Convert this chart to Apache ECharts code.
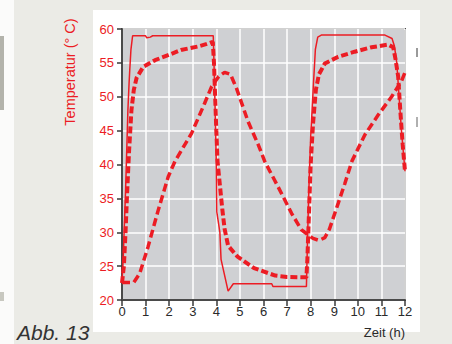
<!DOCTYPE html>
<html><head><meta charset="utf-8">
<script src="https://cdn.jsdelivr.net/npm/echarts@6/dist/echarts.min.js"></script>
<style>html,body{margin:0;padding:0;background:#ebebe6;}#c{width:452px;height:344px;}</style>
</head><body><div id="c"></div>
<script>
// Solid line (setpoint / heater)
const timeSolid = [0, 0.05, 0.1, 0.15, 0.2, 0.25, 0.3, 0.33, 0.38, 0.45, 1.0, 1.05, 1.2, 1.3, 3.87, 3.9, 3.95, 4.0, 4.02, 4.15, 4.2, 4.5, 4.72, 6.35, 6.4, 7.82, 7.86, 7.92, 8.0, 8.12, 8.2, 8.3, 8.45, 11.15, 11.45, 11.55, 11.65, 11.75, 11.85, 12];
const tempSolid = [22.5, 26, 31, 36, 42, 48, 52, 54, 57, 59, 59, 58.7, 58.8, 59, 59, 55, 48, 40, 33, 30, 26, 21.3, 22.4, 22.4, 22.0, 22.0, 28, 36, 44, 52, 57, 58.8, 59.1, 59.1, 58.6, 57.5, 55, 50, 45, 39];
// Thick dashed (fast response)
const timeFast = [0, 0.08, 0.15, 0.22, 0.3, 0.4, 0.5, 0.62, 0.9, 1.4, 2.0, 2.5, 3.2, 3.6, 3.85, 3.9, 3.95, 4.0, 4.05, 4.15, 4.25, 4.35, 4.5, 4.9, 5.6, 6.5, 7.0, 7.82, 7.86, 7.92, 8.0, 8.1, 8.22, 8.35, 8.6, 9.17, 9.87, 10.58, 11.28, 11.5, 11.6, 11.71, 11.8, 11.9, 12];
const tempFast = [22.5, 25, 30, 36, 42, 48, 51, 52.8, 54.4, 55.4, 56.2, 56.9, 57.4, 57.8, 58.1, 55, 50, 45, 40.5, 37, 33.5, 30.5, 28, 26.4, 24.7, 23.6, 23.4, 23.35, 26, 32, 40, 46, 51, 53.3, 54.9, 55.9, 56.65, 57.3, 57.7, 57.3, 55.5, 53, 48, 43, 39];
// Dashed (slow response)
const timeSlow = [0, 0.3, 0.5, 0.75, 1.1, 1.54, 1.96, 2.25, 2.95, 3.5, 3.8, 4.1, 4.35, 4.6, 4.86, 5.35, 5.78, 6.06, 6.62, 7.19, 7.6, 7.9, 8.1, 8.35, 8.6, 8.8, 9.17, 9.45, 9.75, 10.3, 10.86, 11.43, 11.85, 12];
const tempSlow = [22.6, 22.6, 22.6, 23.9, 27.8, 33.3, 38.2, 40.5, 44.6, 49, 51.5, 53, 53.6, 53.3, 51.2, 46.3, 42.9, 40.4, 36.7, 32.8, 30.4, 29.6, 29.1, 28.8, 29.2, 30.5, 34.3, 37.2, 40.5, 44.4, 47.3, 50, 52.3, 53.6];

const xTicks = [0, 1, 2, 3, 4, 5, 6, 7, 8, 9, 10, 11, 12];
const yTicks = [20, 25, 30, 35, 40, 45, 50, 55, 60];

const RED = '#ec1c24';
const pair = (xs, ys) => xs.map((x, i) => [x, ys[i]]);

const chart = echarts.init(document.getElementById('c'), null, {renderer: 'svg'});
chart.setOption({
  animation: false,
  backgroundColor: '#ebebe6',
  grid: {left: 122, right: 47, top: 29, bottom: 44, show: true, backgroundColor: '#cfd0d3', borderColor: '#4a4a4a', borderWidth: 2},
  graphic: [
    {type: 'rect', z: -100, shape: {x: 0, y: 0, width: 14, height: 344}, style: {fill: '#fbfbfa'}},
    {type: 'rect', z: -99, shape: {x: 0, y: 36, width: 4, height: 74}, style: {fill: '#b3b3ab'}},
    {type: 'rect', z: -99, shape: {x: 0, y: 292, width: 4, height: 9}, style: {fill: '#c8c8c0'}},
    {type: 'rect', z: -100, shape: {x: 93, y: 10, width: 327, height: 322}, style: {fill: '#ffffff'}},
    {type: 'rect', z: -99, shape: {x: 416, y: 48, width: 2, height: 9}, style: {fill: '#9a9a9a'}},
    {type: 'rect', z: -99, shape: {x: 416, y: 117, width: 2, height: 10}, style: {fill: '#b0b0b0'}},
    {type: 'text', z: 100, x: 70, y: 72, rotation: Math.PI / 2, style: {text: 'Temperatur (° C)', fill: RED, font: '14.5px "Liberation Sans", Arial, sans-serif', textAlign: 'center', textVerticalAlign: 'middle'}},
    {type: 'text', z: 100, x: 405, y: 332, style: {text: 'Zeit (h)', fill: '#2a2a2a', font: '13px "Liberation Sans", Arial, sans-serif', textAlign: 'right', textVerticalAlign: 'middle'}},
    {type: 'text', z: 100, x: 17, y: 332, style: {text: 'Abb. 13', fill: '#333333', font: 'italic 21px "Liberation Sans", Arial, sans-serif', textAlign: 'left', textVerticalAlign: 'middle'}}
  ],
  xAxis: {
    type: 'value', min: xTicks[0], max: xTicks[xTicks.length - 1], interval: 1,
    axisLine: {show: true, lineStyle: {color: '#4a4a4a', width: 2}},
    axisTick: {show: true, length: 6, lineStyle: {color: '#3a3a3a', width: 1.5}},
    axisLabel: {color: '#2a2a2a', fontSize: 13, margin: 5, fontFamily: 'Liberation Sans'},
    splitLine: {show: true, lineStyle: {color: '#ffffff', width: 1.5}}
  },
  yAxis: {
    type: 'value', min: yTicks[0], max: yTicks[yTicks.length - 1], interval: 5,
    axisLine: {show: true, lineStyle: {color: '#4a4a4a', width: 2}},
    axisTick: {show: true, length: 5, lineStyle: {color: '#3a3a3a', width: 1.5}},
    axisLabel: {color: RED, fontSize: 13, margin: 8, fontFamily: 'Liberation Sans'},
    splitLine: {show: true, lineStyle: {color: '#ffffff', width: 1.5}}
  },
  series: [
    {type: 'line', data: pair(timeSolid, tempSolid), symbol: 'none', lineStyle: {color: RED, width: 1.5}, z: 3},
    {type: 'line', data: pair(timeFast, tempFast), symbol: 'none', lineStyle: {color: RED, width: 4, type: [7, 3]}, z: 4},
    {type: 'line', data: pair(timeSlow, tempSlow), symbol: 'none', lineStyle: {color: RED, width: 3.5, type: [8, 4]}, z: 4}
  ]
});
</script>
</body></html>
